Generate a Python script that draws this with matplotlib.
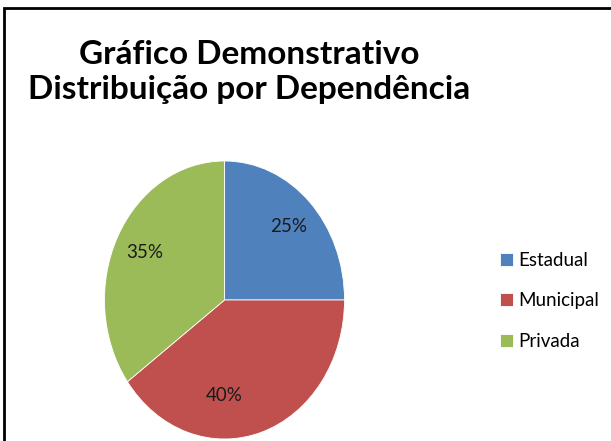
import matplotlib.pyplot as plt
from matplotlib.patches import Rectangle

# data
categories = ['Estadual', 'Municipal', 'Privada']
shares = [25, 40, 35]
colors = ['#4F81BD', '#C0504D', '#9BBB59']
title = 'Gráfico Demonstrativo\nDistribuição por Dependência'

W, H = 611, 441
fig = plt.figure(figsize=(W / 100, H / 100), dpi=100)

# pie is slightly stretched vertically in the original, so no equal aspect
ax = fig.add_axes([104.5 / W, 2 / H, 240 / W, 278 / H])
wedges, texts, pcts = ax.pie(
    shares,
    colors=colors,
    startangle=90,
    counterclock=False,
    autopct='%d%%',
    pctdistance=0.75,
    wedgeprops=dict(edgecolor='white', linewidth=0.6),
    textprops=dict(fontsize=13.5, family='Lato', color='#1a1a1a'),
)
ax.set_aspect('auto')
ax.set_xlim(-1, 1)
ax.set_ylim(-1, 1)

# Excel put the 40% label straight under the centre
x, y = pcts[1].get_position()
pcts[1].set_position((0, -(x * x + y * y) ** 0.5 * 0.92))

fig.text(249 / W, 1 - 40 / H, title, ha='center', va='top',
         fontsize=24, fontweight='bold', family='Lato', linespacing=1.25)

fig.legend(wedges, categories, loc='upper left',
           bbox_to_anchor=(483 / W, 1 - 235 / H), frameon=False,
           prop=dict(family='Lato', size=13.5),
           handlelength=0.7, handleheight=0.7, handletextpad=0.3,
           labelspacing=1.25)

# outer frame, only left and top edges are inside the picture
fig.patches.append(Rectangle((4 / W, -0.1), 1.2, 1.1 - 8 / H,
                             transform=fig.transFigure, fill=False,
                             edgecolor='black', linewidth=2))

fig.savefig('out.png', dpi=100)
